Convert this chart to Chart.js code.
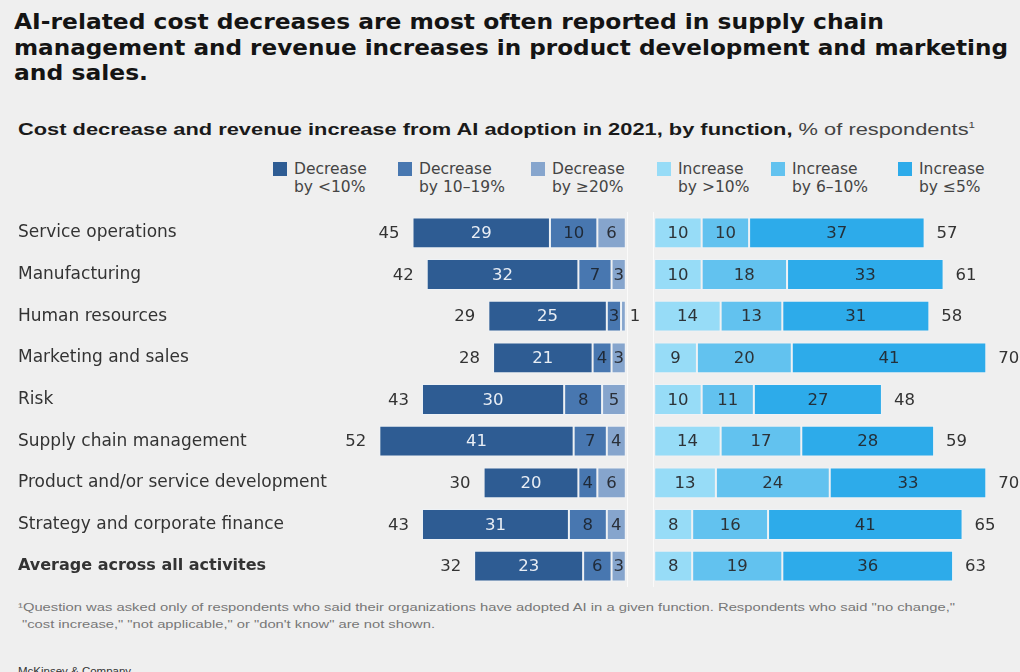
<!DOCTYPE html>
<html>
<head>
<meta charset="utf-8">
<script src="https://cdn.jsdelivr.net/npm/chart.js@4.4.1/dist/chart.umd.min.js"></script>
<style>
html,body{margin:0;padding:0;background:#efefef;}
body{width:1020px;height:672px;position:relative;overflow:hidden;font-family:"DejaVu Sans",sans-serif;color:#222;}
.t{position:absolute;white-space:nowrap;transform-origin:0 0;}
#title{position:absolute;left:14px;top:9px;font-weight:bold;font-size:22px;line-height:25.5px;color:#141414;}
#subtitle{left:18px;top:115px;font-family:"Liberation Sans",sans-serif;font-size:17px;line-height:20px;color:#1a1a1a;}
#subtitle b{font-weight:bold;}
#subtitle span{font-weight:normal;color:#444;}
#legend{position:absolute;left:0;top:0;}
.li{position:absolute;top:161px;}
.li .sw{position:absolute;left:0;top:1px;width:14px;height:14px;}
.li .lt{position:absolute;left:21px;top:0;font-size:15.5px;line-height:17.5px;color:#444;text-align:left;white-space:nowrap;}
#foot{left:18px;top:599px;font-family:"Liberation Sans",sans-serif;font-size:11.5px;line-height:17px;color:#777;}
#brand{left:18px;top:665px;font-family:"Liberation Sans",sans-serif;font-size:11.5px;color:#333;}
#wrap{position:absolute;left:0;top:212px;width:1020px;height:375px;}
</style>
</head>
<body>
<div id="title">
  <div class="t fit" data-w="870" style="position:relative">AI-related cost decreases are most often reported in supply chain</div>
  <div class="t fit" data-w="994" style="position:relative">management and revenue increases in product development and marketing</div>
  <div class="t fit" data-w="134" style="position:relative">and sales.</div>
</div>
<div id="subtitle" class="t fit" data-w="957"><b>Cost decrease and revenue increase from AI adoption in 2021, by function,</b> <span>% of respondents<sup style="font-size:9px">1</sup></span></div>
<div id="legend"></div>
<div id="wrap"><canvas id="c" width="1020" height="375"></canvas></div>
<div id="foot" class="t">
  <div class="fit" data-w="937" style="transform-origin:0 0">¹Question was asked only of respondents who said their organizations have adopted AI in a given function. Respondents who said "no change,"</div>
  <div class="fit" data-w="413" style="transform-origin:0 0;margin-left:4px">"cost increase," "not applicable," or "don't know" are not shown.</div>
</div>
<div id="brand" class="t">McKinsey &amp; Company</div>
<script>
// ---- data ----
const categories = ["Service operations","Manufacturing","Human resources","Marketing and sales","Risk","Supply chain management","Product and/or service development","Strategy and corporate finance","Average across all activites"];
const decUnder10   = [29,32,25,21,30,41,20,31,23];
const dec10to19    = [10,7,3,4,8,7,4,8,6];
const dec20plus    = [6,3,1,3,5,4,6,4,3];
const decTotal     = [45,42,29,28,43,52,30,43,32];
const incOver10    = [10,10,14,9,10,14,13,8,8];
const inc6to10     = [10,18,13,20,11,17,24,16,19];
const inc5orLess   = [37,33,31,41,27,28,33,41,36];
const incTotal     = [57,61,58,70,48,59,70,65,63];
const seriesNames = [["Decrease","by <10%"],["Decrease","by 10–19%"],["Decrease","by ≥20%"],["Increase","by >10%"],["Increase","by 6–10%"],["Increase","by ≤5%"]];
const seriesColors = ["#2e5c93","#4877b0","#86a5cd","#97dcf7","#62c2ef","#2dabea"];
const legendX = [273,398,531,657,771,898];

// ---- legend (HTML) ----
const lg = document.getElementById('legend');
seriesNames.forEach((n,i)=>{
  const d=document.createElement('div');d.className='li';d.style.left=legendX[i]+'px';
  d.innerHTML='<div class="sw" style="background:'+seriesColors[i]+'"></div><div class="lt">'+n[0]+'<br>'+n[1]+'</div>';
  lg.appendChild(d);
});

function fitAll(){
  document.querySelectorAll('.fit').forEach(el=>{
    el.style.transform='none';
    el.style.display='inline-block';
    const w=el.getBoundingClientRect().width;
    const target=+el.dataset.w;
    if(w>0) el.style.transform='scaleX('+(target/w)+')';
    el.style.transformOrigin='0 0';
  });
}
fitAll();
document.querySelectorAll('#title .fit, #foot .fit').forEach(el=>{el.style.display='block';el.style.width='max-content';});

const TXT='#333333';
const ds = (label,data,color,axis,lc)=>({label,data,backgroundColor:color,borderColor:'#eef2f6',borderWidth:1,borderSkipped:false,xAxisID:axis,labelColor:lc});
const datasets=[
  ds('Decrease by ≥20%',dec20plus,seriesColors[2],'xl','#2a2f38'),
  ds('Decrease by 10–19%',dec10to19,seriesColors[1],'xl','#1f2a38'),
  ds('Decrease by <10%',decUnder10,seriesColors[0],'xl','#e9eef5'),
  ds('Increase by >10%',incOver10,seriesColors[3],'xr','#2d3338'),
  ds('Increase by 6–10%',inc6to10,seriesColors[4],'xr','#2d3338'),
  ds('Increase by ≤5%',inc5orLess,seriesColors[5],'xr','#23303a')
];

const labelsPlugin={
  id:'valueLabels',
  beforeDatasetsDraw(chart){
    const c=chart.ctx, a=chart.chartArea;
    const x0=chart.scales.xl.getPixelForValue(0), x1=chart.scales.xr.getPixelForValue(0);
    c.save();c.strokeStyle='rgba(255,255,255,0.7)';c.lineWidth=1;
    [x0+1.5,x1-1.5].forEach(x=>{c.beginPath();c.moveTo(Math.round(x)+0.5,a.top-6);c.lineTo(Math.round(x)+0.5,a.bottom+4);c.stroke();});
    c.restore();
  },
  afterDatasetsDraw(chart){
    const c=chart.ctx;
    c.save();
    c.font='16.5px "DejaVu Sans"';
    c.textBaseline='middle';
    chart.data.datasets.forEach((d,di)=>{
      const meta=chart.getDatasetMeta(di);
      meta.data.forEach((bar,i)=>{
        const v=d.data[i];
        const w=Math.abs(bar.x-bar.base);
        if(w<9){
          c.textAlign='left';c.fillStyle=TXT;
          c.fillText(String(v),Math.max(bar.x,bar.base)+4,bar.y+1);
        }else{
          c.textAlign='center';c.fillStyle=d.labelColor;
          c.fillText(String(v),(bar.x+bar.base)/2,bar.y+1);
        }
      });
    });
    const mL=chart.getDatasetMeta(2), mR=chart.getDatasetMeta(5);
    c.fillStyle=TXT;
    mL.data.forEach((bar,i)=>{c.textAlign='right';c.fillText(String(decTotal[i]),bar.x-13,bar.y+1);});
    mR.data.forEach((bar,i)=>{c.textAlign='left';c.fillText(String(incTotal[i]),bar.x+12,bar.y+1);});
    c.restore();
  }
};

new Chart(document.getElementById('c'),{
  type:'bar',
  data:{labels:categories,datasets},
  options:{
    indexAxis:'y',
    responsive:false,
    animation:false,
    devicePixelRatio:1,
    events:[],
    barPercentage:0.74,
    categoryPercentage:1,
    layout:{padding:{left:18,right:10,top:0,bottom:0}},
    plugins:{legend:{display:false},tooltip:{enabled:false},title:{display:false}},
    scales:{
      y:{
        stacked:true,
        grid:{display:false},
        border:{display:false},
        ticks:{
          autoSkip:false,
          crossAlign:'far',
          padding:0,
          color:'#333',
          font:(ctx)=> ctx.index===categories.length-1 ? {family:'"DejaVu Sans"',size:16,weight:'bold'} : {family:'"DejaVu Sans"',size:17,weight:'normal'}
        },
        afterFit:(s)=>{s.width=322;s.paddingTop=0;s.paddingBottom=0;}
      },
      xl:{type:'linear',position:'bottom',stack:'x',stackWeight:300,reverse:true,min:-3,max:60.3,stacked:true,display:false},
      xr:{type:'linear',position:'bottom',stack:'x',stackWeight:370,min:-3,max:75,stacked:true,display:false}
    }
  },
  plugins:[labelsPlugin]
});
</script>
</body>
</html>
